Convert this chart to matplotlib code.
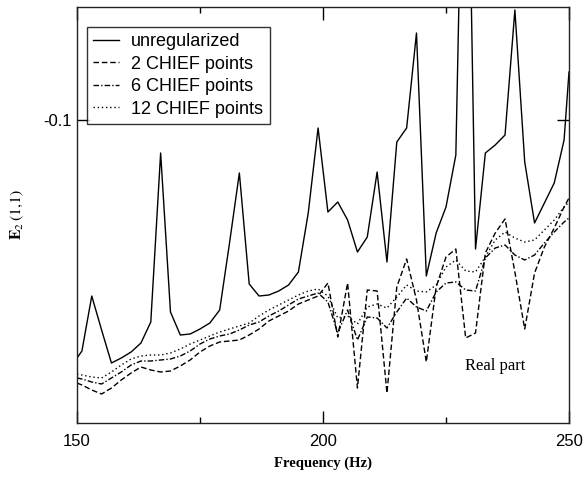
import matplotlib
matplotlib.use("Agg")
import matplotlib.pyplot as plt
from matplotlib.ticker import FixedLocator

freq = [150, 151, 153, 155, 157, 159, 161, 163, 165, 167, 169, 171, 173, 175,
        177, 179, 181, 183, 185, 187, 189, 191, 193, 195, 197, 199, 201, 203,
        205, 207, 209, 211, 213, 215, 217, 219, 221, 223, 225, 227, 229, 231,
        233, 235, 237, 239, 241, 243, 245, 247, 249, 250]

unregularized = [-0.1476, -0.1462, -0.1352, -0.1420, -0.1486, -0.1476, -0.1464,
                 -0.1446, -0.1404, -0.1066, -0.1384, -0.1430, -0.1428, -0.1418,
                 -0.1406, -0.1380, -0.1246, -0.1106, -0.1328, -0.1352, -0.1350,
                 -0.1342, -0.1330, -0.1304, -0.1186, -0.1016, -0.1184, -0.1164,
                 -0.1200, -0.1264, -0.1234, -0.1104, -0.1284, -0.1044, -0.1016,
                 -0.0826, -0.1312, -0.1226, -0.1174, -0.1070, -0.0100, -0.1258,
                 -0.1066, -0.1050, -0.1030, -0.0780, -0.1084, -0.1206, -0.1166,
                 -0.1126, -0.1040, -0.0904]

chief2 = [-0.1526, -0.1530, -0.1540, -0.1548, -0.1536, -0.1520, -0.1506, -0.1494,
          -0.1500, -0.1504, -0.1502, -0.1492, -0.1480, -0.1464, -0.1452, -0.1444,
          -0.1442, -0.1440, -0.1430, -0.1418, -0.1402, -0.1392, -0.1382, -0.1368,
          -0.1360, -0.1352, -0.1326, -0.1434, -0.1326, -0.1536, -0.1340, -0.1342,
          -0.1546, -0.1334, -0.1278, -0.1360, -0.1484, -0.1334, -0.1274, -0.1258,
          -0.1436, -0.1426, -0.1266, -0.1226, -0.1198, -0.1304, -0.1418, -0.1306,
          -0.1254, -0.1216, -0.1174, -0.1156]

chief6 = [-0.1516, -0.1518, -0.1524, -0.1528, -0.1516, -0.1504, -0.1490, -0.1482,
          -0.1482, -0.1480, -0.1478, -0.1472, -0.1462, -0.1448, -0.1438, -0.1432,
          -0.1428, -0.1420, -0.1410, -0.1404, -0.1392, -0.1382, -0.1370, -0.1358,
          -0.1352, -0.1346, -0.1364, -0.1426, -0.1380, -0.1440, -0.1394, -0.1396,
          -0.1416, -0.1384, -0.1356, -0.1374, -0.1382, -0.1344, -0.1326, -0.1324,
          -0.1340, -0.1342, -0.1276, -0.1256, -0.1250, -0.1270, -0.1280, -0.1270,
          -0.1246, -0.1224, -0.1204, -0.1196]

chief12 = [-0.1508, -0.1510, -0.1514, -0.1516, -0.1504, -0.1490, -0.1478, -0.1472,
           -0.1470, -0.1470, -0.1466, -0.1458, -0.1448, -0.1440, -0.1432, -0.1424,
           -0.1418, -0.1412, -0.1406, -0.1392, -0.1380, -0.1370, -0.1360, -0.1350,
           -0.1342, -0.1338, -0.1352, -0.1396, -0.1392, -0.1408, -0.1374, -0.1368,
           -0.1376, -0.1354, -0.1330, -0.1342, -0.1344, -0.1330, -0.1294, -0.1280,
           -0.1302, -0.1304, -0.1274, -0.1240, -0.1224, -0.1236, -0.1244, -0.1240,
           -0.1220, -0.1200, -0.1174, -0.1164]

labels = ["unregularized", "2 CHIEF points", "6 CHIEF points", "12 CHIEF points"]
x_major = [150, 200, 250]
x_minor = [175, 225]
y_major = [-0.1]

plt.rcParams['font.family'] = ['Liberation Sans', 'DejaVu Sans']
plt.rcParams['mathtext.fontset'] = 'stix'

fig = plt.figure(figsize=(5.84, 4.80), dpi=100)
ax = fig.add_axes([77/584, 1-423/480, (569-77)/584, (423-7)/480])

lw = 1.0
ax.plot(freq, unregularized, color='black', lw=lw, ls='-', label=labels[0])
ax.plot(freq, chief2, color='black', lw=lw, ls=(0, (4, 2)), label=labels[1])
ax.plot(freq, chief6, color='black', lw=lw, ls=(0, (4, 1.5, 1, 1.5)), label=labels[2])
ax.plot(freq, chief12, color='black', lw=lw, ls=(0, (1, 2)), label=labels[3])

ax.set_xlim(150, 250)
ax.set_ylim(-0.1606, -0.0774)

ax.xaxis.set_major_locator(FixedLocator(x_major))
ax.xaxis.set_minor_locator(FixedLocator(x_minor))
ax.yaxis.set_major_locator(FixedLocator(y_major))
ax.yaxis.set_minor_locator(FixedLocator([]))
ax.set_xticklabels([str(v) for v in x_major])
ax.set_yticklabels(["-0.1"])

ax.tick_params(axis='both', which='both', direction='in', top=True, right=True,
               labelsize=12, width=1.0, color='black')
ax.tick_params(axis='both', which='major', length=9)
ax.tick_params(axis='both', which='minor', length=4.5)
ax.tick_params(axis='x', which='major', pad=8)
ax.tick_params(axis='y', which='major', pad=4)

for s in ax.spines.values():
    s.set_linewidth(1.0)
    s.set_color('#222222')

leg = ax.legend(loc='upper left', bbox_to_anchor=((87-77)/492, 1-(27-7)/416),
                fontsize=13, frameon=True, fancybox=False, handlelength=1.4,
                handletextpad=0.7, borderpad=0.35, labelspacing=0.3,
                borderaxespad=0.0)
leg.get_frame().set_edgecolor('black')
leg.get_frame().set_linewidth(1.0)

ax.text(235, -0.076 - 366*0.0002, "Real part", ha='center', va='center',
        fontsize=12, family='Liberation Serif')

fig.text(323/584, 1-463/480, "Frequency (Hz)", ha='center', va='center',
         fontsize=10.5, family='Liberation Serif', fontweight='bold')
fig.text(17/584, 1-214/480, r'$\mathbf{E}_2\,\mathit{(1{,}1)}$', ha='center',
         va='center', rotation=90, fontsize=11.5)

fig.savefig("out.png", dpi=100)
